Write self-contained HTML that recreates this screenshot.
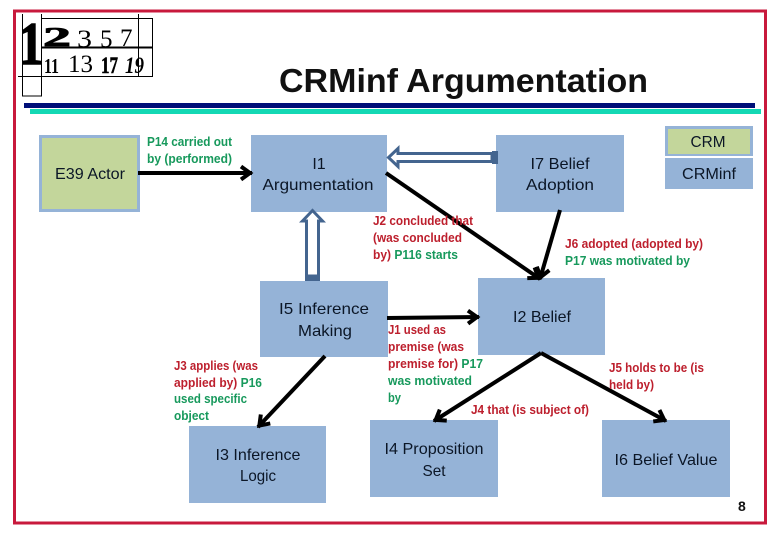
<!DOCTYPE html>
<html><head><meta charset="utf-8"><style>
html,body{margin:0;padding:0;background:#fff}
svg{display:block}
text{font-family:"Liberation Sans",sans-serif}
.n{font-size:16px;fill:#0b1626;text-anchor:middle}
.r{font-size:13px;font-weight:bold;fill:#bd1f2d}
.g{font-size:13px;font-weight:bold;fill:#17995c}
.s{font-family:"Liberation Serif",serif}
</style></head><body>
<svg width="780" height="540" viewBox="0 0 780 540" xmlns="http://www.w3.org/2000/svg">
<defs><marker id="a" markerUnits="userSpaceOnUse" markerWidth="20" markerHeight="20" refX="15" refY="9" orient="auto"><path d="M4 2.500 L13 9 L4 15.500" fill="none" stroke="#000" stroke-width="4"/></marker></defs>
<rect width="780" height="540" fill="#fff"/>
<rect x="14.500" y="11" width="751" height="512" fill="none" stroke="#c8193c" stroke-width="3"/>
<!-- logo -->
<g fill="none" stroke="#000" stroke-width="1">
<path d="M22.500 14V96H41.500V14M18 76.500H152.500V18.500H41.500M138.500 14V76"/>
</g>
<path d="M41 47.500H153" stroke="#000" stroke-width="2"/>
<text class="s" x="19" y="64" font-size="60" font-weight="bold" stroke="#000" stroke-width="1.600" textLength="24" lengthAdjust="spacingAndGlyphs">1</text>
<text class="s" x="43" y="46" font-size="27" font-weight="bold" stroke="#000" stroke-width="0.800" textLength="28" lengthAdjust="spacingAndGlyphs">2</text>
<text class="s" x="77" y="47" font-size="25" textLength="15" lengthAdjust="spacingAndGlyphs">3</text>
<text class="s" x="100" y="47" font-size="25">5</text>
<text class="s" x="120" y="46" font-size="25">7</text>
<text class="s" x="44" y="73" font-size="21" font-weight="bold" textLength="15" lengthAdjust="spacingAndGlyphs">11</text>
<text class="s" x="68" y="72" font-size="25" textLength="25" lengthAdjust="spacingAndGlyphs">13</text>
<text class="s" x="101" y="73" font-size="23" font-weight="bold" stroke="#000" stroke-width="0.500" textLength="17" lengthAdjust="spacingAndGlyphs">17</text>
<text class="s" x="125" y="73" font-size="23" font-style="italic" font-weight="bold" textLength="19" lengthAdjust="spacingAndGlyphs">19</text>
<!-- title -->
<text x="279" y="92" font-size="33" font-weight="bold" fill="#111" textLength="369" lengthAdjust="spacingAndGlyphs">CRMinf Argumentation</text>
<rect x="24" y="103" width="731" height="5" fill="#000f78"/>
<rect x="30" y="109" width="731" height="5" fill="#14d8b4"/>
<!-- boxes -->
<rect x="40.500" y="136.500" width="98" height="74" fill="#c3d69b" stroke="#95b3d7" stroke-width="3"/>
<g fill="#95b3d7">
<rect x="251" y="135" width="136" height="77"/>
<rect x="496" y="135" width="128" height="77"/>
<rect x="665" y="126" width="88" height="30"/>
<rect x="665" y="158" width="88" height="31"/>
<rect x="260" y="281" width="128" height="76"/>
<rect x="189" y="426" width="137" height="77"/>
<rect x="370" y="420" width="128" height="77"/>
<rect x="478" y="278" width="127" height="77"/>
<rect x="602" y="420" width="128" height="77"/>
</g>
<rect x="668" y="129" width="82" height="25" fill="#c3d69b"/>
<!-- hollow arrows -->
<path d="M492 153.500 H398 V148.500 L388.500 157.500 L398 166.500 V161.500 H492Z" fill="#fff" stroke="#44658f" stroke-width="3"/>
<rect x="492" y="151" width="6" height="13" fill="#44658f"/>
<path d="M306.500 276 V221 H302.500 L312.500 210.500 L322.500 221 H318.500 V276Z" fill="#fff" stroke="#44658f" stroke-width="3"/>
<rect x="305" y="275" width="15" height="6" fill="#44658f"/>
<!-- connectors -->
<g stroke="#000" stroke-width="4" fill="none" marker-end="url(#a)">
<line x1="138" y1="173" x2="252" y2="173"/>
<line x1="386" y1="173" x2="540" y2="279"/>
<line x1="560" y1="210" x2="540" y2="279"/>
<line x1="387" y1="318" x2="479" y2="317"/>
<line x1="325" y1="356" x2="258" y2="427"/>
<line x1="541" y1="353" x2="434" y2="421"/>
<line x1="541" y1="353" x2="666" y2="421"/>
</g>
<!-- node labels -->
<text x="90" y="179" class="n" textLength="70" lengthAdjust="spacingAndGlyphs">E39 Actor</text>
<text x="319" y="169" class="n">I1</text>
<text x="318" y="190" class="n" textLength="111" lengthAdjust="spacingAndGlyphs">Argumentation</text>
<text x="560" y="169" class="n" textLength="59" lengthAdjust="spacingAndGlyphs">I7 Belief</text>
<text x="560" y="190" class="n" textLength="68" lengthAdjust="spacingAndGlyphs">Adoption</text>
<text x="708" y="147" class="n" textLength="35" lengthAdjust="spacingAndGlyphs">CRM</text>
<text x="709" y="179" class="n" textLength="54" lengthAdjust="spacingAndGlyphs">CRMinf</text>
<text x="324" y="314" class="n" textLength="90" lengthAdjust="spacingAndGlyphs">I5  Inference</text>
<text x="325" y="336" class="n" textLength="54" lengthAdjust="spacingAndGlyphs">Making</text>
<text x="258" y="460" class="n" textLength="85" lengthAdjust="spacingAndGlyphs">I3 Inference</text>
<text x="258" y="481" class="n" textLength="36" lengthAdjust="spacingAndGlyphs">Logic</text>
<text x="434" y="454" class="n" textLength="99" lengthAdjust="spacingAndGlyphs">I4 Proposition</text>
<text x="434" y="476" class="n" textLength="23" lengthAdjust="spacingAndGlyphs">Set</text>
<text x="542" y="322" class="n" textLength="58" lengthAdjust="spacingAndGlyphs">I2  Belief</text>
<text x="666" y="465" class="n" textLength="103" lengthAdjust="spacingAndGlyphs">I6 Belief Value</text>
<!-- edge labels -->
<text class="g" x="147" y="146" textLength="85" lengthAdjust="spacingAndGlyphs">P14 carried out</text>
<text class="g" x="147" y="163" textLength="85" lengthAdjust="spacingAndGlyphs">by (performed)</text>
<text class="r" x="373" y="225" textLength="100" lengthAdjust="spacingAndGlyphs">J2 concluded that</text>
<text class="r" x="373" y="242" textLength="89" lengthAdjust="spacingAndGlyphs">(was concluded</text>
<text x="373" y="259" font-size="13" font-weight="bold" textLength="85" lengthAdjust="spacingAndGlyphs"><tspan fill="#bd1f2d">by)</tspan> <tspan fill="#17995c">P116 starts</tspan></text>
<text class="r" x="565" y="248" textLength="138" lengthAdjust="spacingAndGlyphs">J6 adopted (adopted by)</text>
<text class="g" x="565" y="265" textLength="125" lengthAdjust="spacingAndGlyphs">P17 was motivated by</text>
<text class="r" x="388" y="334" textLength="58" lengthAdjust="spacingAndGlyphs">J1 used as</text>
<text class="r" x="388" y="351" textLength="76" lengthAdjust="spacingAndGlyphs">premise (was</text>
<text x="388" y="368" font-size="13" font-weight="bold" textLength="95" lengthAdjust="spacingAndGlyphs"><tspan fill="#bd1f2d">premise for)</tspan> <tspan fill="#17995c">P17</tspan></text>
<text class="g" x="388" y="385" textLength="84" lengthAdjust="spacingAndGlyphs">was motivated</text>
<text class="g" x="388" y="402" textLength="13" lengthAdjust="spacingAndGlyphs">by</text>
<text class="r" x="174" y="370" textLength="84" lengthAdjust="spacingAndGlyphs">J3 applies (was</text>
<text x="174" y="387" font-size="13" font-weight="bold" textLength="88" lengthAdjust="spacingAndGlyphs"><tspan fill="#bd1f2d">applied by)</tspan> <tspan fill="#17995c">P16</tspan></text>
<text class="g" x="174" y="403" textLength="73" lengthAdjust="spacingAndGlyphs">used specific</text>
<text class="g" x="174" y="420" textLength="35" lengthAdjust="spacingAndGlyphs">object</text>
<text class="r" x="471" y="414" textLength="118" lengthAdjust="spacingAndGlyphs">J4 that (is subject of)</text>
<text class="r" x="609" y="372" textLength="95" lengthAdjust="spacingAndGlyphs">J5 holds to be (is</text>
<text class="r" x="609" y="389" textLength="45" lengthAdjust="spacingAndGlyphs">held by)</text>
<text x="738" y="511" font-size="14" font-weight="bold" fill="#111">8</text>
</svg>
</body></html>
